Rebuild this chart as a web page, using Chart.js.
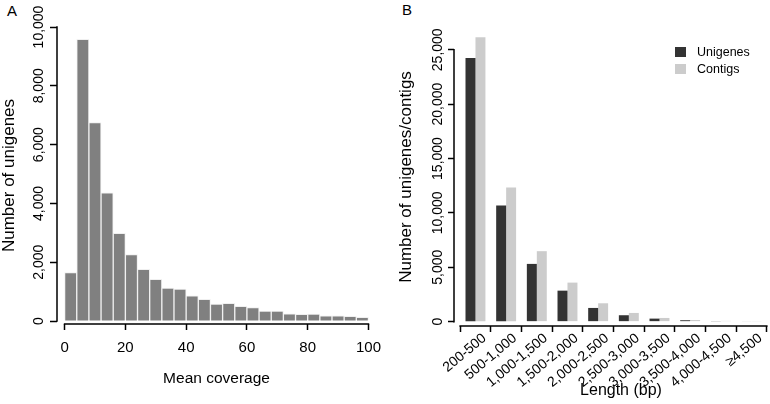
<!DOCTYPE html>
<html>
<head>
<meta charset="utf-8">
<script src="https://cdn.jsdelivr.net/npm/chart.js@4.4.0/dist/chart.umd.min.js"></script>
<style>
  html, body { margin: 0; padding: 0; background: #fff; overflow: hidden; }
  body { width: 770px; height: 404px; position: relative; font-family: "Liberation Sans", Arial, sans-serif; }
  canvas { position: absolute; top: 0; }
  #chartA { left: 0; }
  #chartB { left: 385px; }
  .panel-tag { position: absolute; font-size: 15px; line-height: 1; color: #000; }
  #legendB { position: absolute; left: 675px; top: 44px; font-size: 12.5px; color: #000; }
  .legend-row { display: flex; align-items: center; height: 16.5px; }
  .legend-box { width: 11px; height: 10px; margin-right: 11px; }
</style>
</head>
<body>
<div class="panel-tag" style="left:7px;top:2.5px">A</div>
<div class="panel-tag" style="left:402px;top:1.5px">B</div>
<canvas id="chartA" width="390" height="404"></canvas>
<canvas id="chartB" width="405" height="404"></canvas>
<div id="legendB"></div>
<script>
// ---------- Panel A data (histogram, bins of width 4) ----------
const coverageBins = [2, 6, 10, 14, 18, 22, 26, 30, 34, 38, 42, 46, 50, 54, 58, 62, 66, 70, 74, 78, 82, 86, 90, 94, 98];
const unigeneCounts = [1650, 9580, 6750, 4360, 2980, 2260, 1760, 1420, 1120, 1085, 855, 740, 580, 600, 500, 455, 340, 340, 250, 230, 240, 180, 180, 160, 125];
const coverageTicks = [0, 20, 40, 60, 80, 100];
const countTicksA = [0, 2000, 4000, 6000, 8000, 10000];

// ---------- Panel B data ----------
const lengthBins = ['200-500', '500-1,000', '1,000-1,500', '1,500-2,000', '2,000-2,500', '2,500-3,000', '3,000-3,500', '3,500-4,000', '4,000-4,500', '\u22654,500'];
const unigenesByLength = [24250, 10680, 5310, 2850, 1260, 590, 280, 130, 60, 50];
const contigsByLength = [26150, 12330, 6480, 3590, 1690, 800, 340, 150, 70, 60];
const countTicksB = [0, 5000, 10000, 15000, 20000, 25000];
const seriesNames = ['Unigenes', 'Contigs'];
const seriesColors = ['#333333', '#cccccc'];

Chart.defaults.font.family = '"Liberation Sans", Arial, sans-serif';
Chart.defaults.color = '#000';

// R-style axis lines: only from first to last tick
const rAxes = {
  id: 'rAxes',
  afterDraw(chart) {
    const { ctx, chartArea, scales } = chart;
    const xt = scales.x.ticks, yt = scales.y.ticks;
    ctx.save();
    ctx.strokeStyle = '#000';
    ctx.lineWidth = 1.5;
    ctx.lineCap = 'square';
    ctx.beginPath();
    ctx.moveTo(scales.x.getPixelForValue(xt[0].value), chartArea.bottom);
    ctx.lineTo(scales.x.getPixelForValue(xt[xt.length - 1].value), chartArea.bottom);
    ctx.moveTo(chartArea.left, scales.y.getPixelForValue(yt[0].value));
    ctx.lineTo(chartArea.left, scales.y.getPixelForValue(yt[yt.length - 1].value));
    ctx.stroke();
    ctx.restore();
  }
};

function tickGrid(len) {
  return { display: true, drawOnChartArea: false, drawTicks: true, tickLength: len, tickColor: '#000', tickWidth: 1.5, offset: false };
}
const fmt = v => v.toLocaleString('en-US');

// ---------- Panel A ----------
new Chart(document.getElementById('chartA'), {
  type: 'bar',
  data: {
    datasets: [{
      data: coverageBins.map((c, i) => ({ x: c, y: unigeneCounts[i] })),
      backgroundColor: '#808080',
      borderColor: '#f0f0f0',
      borderWidth: 1,
      categoryPercentage: 1,
      barPercentage: 1
    }]
  },
  options: {
    responsive: false, animation: false, devicePixelRatio: 1,
    layout: { padding: { left: 0, right: 1, top: 27, bottom: 0 } },
    plugins: { legend: { display: false }, tooltip: { enabled: false } },
    scales: {
      x: {
        type: 'linear', min: -2.5, max: 102.5, offset: false,
        grid: tickGrid(6), border: { display: false },
        afterBuildTicks: s => { s.ticks = coverageTicks.map(v => ({ value: v })); },
        afterFit: s => { s.height = 80; },
        ticks: { font: { size: 15 }, padding: 9, autoSkip: false, maxRotation: 0, callback: fmt },
        title: { display: true, text: 'Mean coverage', font: { size: 15.5 }, padding: { top: 0, bottom: 15.7 } }
      },
      y: {
        type: 'linear', min: -100, max: 10000,
        grid: tickGrid(7), border: { display: false },
        afterBuildTicks: s => { s.ticks = countTicksA.map(v => ({ value: v })); },
        afterFit: s => { s.width = 57; },
        ticks: { font: { size: 14 }, minRotation: 90, maxRotation: 90, crossAlign: 'center', padding: -11, autoSkip: false, callback: fmt },
        title: { display: true, text: 'Number of unigenes', font: { size: 17 }, padding: { top: -1, bottom: 0 } }
      }
    }
  },
  plugins: [rAxes]
});

// ---------- Panel B ----------
const labelShift = 0.29; // R draws the rotated labels a little right of the group centres
new Chart(document.getElementById('chartB'), {
  type: 'bar',
  data: {
    datasets: [unigenesByLength, contigsByLength].map((vals, k) => ({
      label: seriesNames[k],
      data: vals.map((v, i) => ({ x: i + 0.5, y: v })),
      backgroundColor: seriesColors[k],
      borderWidth: 0,
      categoryPercentage: 0.65,
      barPercentage: 1
    }))
  },
  options: {
    responsive: false, animation: false, devicePixelRatio: 1,
    layout: { padding: { left: 0, right: 2, top: 28, bottom: 0 } },
    plugins: { legend: { display: false }, tooltip: { enabled: false } },
    scales: {
      x: {
        type: 'linear', min: -0.2, max: 10.69, offset: false, weight: 0,
        grid: tickGrid(6), border: { display: false },
        afterBuildTicks: s => { s.ticks = lengthBins.concat(['']).map((_, i) => ({ value: i })); },
        afterFit: s => { s.height = 6; },
        ticks: { display: false, autoSkip: false }
      },
      x2: {
        axis: 'x', type: 'linear', position: 'bottom', offset: false, weight: 1,
        min: -0.2 - labelShift, max: 10.69 - labelShift,
        grid: { display: false, drawTicks: false }, border: { display: false },
        afterBuildTicks: s => { s.ticks = lengthBins.map((_, i) => ({ value: i + 0.5 })); },
        afterFit: s => { s.height = 72; },
        ticks: { font: { size: 14 }, minRotation: 40, maxRotation: 40, padding: -2, autoSkip: false,
                 callback: v => lengthBins[Math.floor(v)] },
        title: { display: true, text: 'Length (bp)', font: { size: 16 }, padding: { top: 0, bottom: 3.4 } }
      },
      y: {
        type: 'linear', min: -400, max: 27000,
        grid: tickGrid(6), border: { display: false },
        afterBuildTicks: s => { s.ticks = countTicksB.map(v => ({ value: v })); },
        afterFit: s => { s.width = 69; },
        ticks: { font: { size: 14 }, minRotation: 90, maxRotation: 90, crossAlign: 'center', padding: -12, autoSkip: false, callback: fmt },
        title: { display: true, text: 'Number of unigenes/contigs', font: { size: 17 }, padding: { top: 10.8, bottom: 0 } }
      }
    }
  },
  plugins: [rAxes]
});

// HTML legend for panel B
const legendB = document.getElementById('legendB');
seriesNames.forEach((name, k) => {
  const row = document.createElement('div');
  row.className = 'legend-row';
  const box = document.createElement('span');
  box.className = 'legend-box';
  box.style.background = seriesColors[k];
  const txt = document.createElement('span');
  txt.textContent = name;
  row.appendChild(box);
  row.appendChild(txt);
  legendB.appendChild(row);
});
</script>
</body>
</html>
